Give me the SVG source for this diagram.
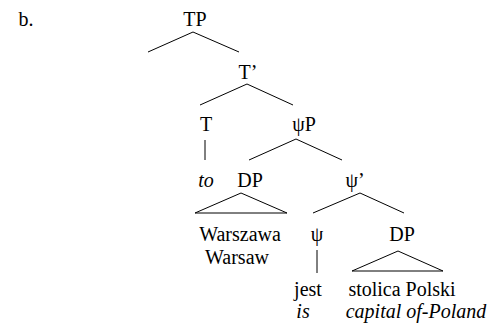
<svg xmlns="http://www.w3.org/2000/svg" width="495" height="328" viewBox="0 0 495 328">
<style>
text{font-family:"Liberation Serif","Times New Roman",serif;font-size:20px;fill:#000;text-anchor:middle}
.i{font-style:italic}
.e{stroke:#000;stroke-width:1;fill:none}
</style>
<rect width="495" height="328" fill="#fff"/>
<text x="26" y="26">b.</text>
<g id="TP"><text x="195" y="26">TP</text></g>
<g id="Tbar"><text x="248" y="79">T’</text></g>
<g id="T"><text x="206" y="131">T</text></g>
<g id="to"><text class="i" x="206" y="187">to</text></g>
<g id="psiP"><text x="304" y="131">ψP</text></g>
<g id="DP1"><text x="250" y="187">DP</text></g>
<g id="psibar"><text x="355" y="187">ψ’</text></g>
<g id="Warszawa"><text x="240" y="241">Warszawa</text><text x="237" y="264">Warsaw</text></g>
<g id="psi"><text x="317" y="241">ψ</text></g>
<g id="DP2"><text x="402" y="241">DP</text></g>
<g id="jest"><text x="308" y="296">jest</text><text class="i" x="303" y="318">is</text></g>
<g id="stolica"><text x="402" y="296">stolica Polski</text><text class="i" x="416" y="318">capital of-Poland</text></g>
<g id="connectors" class="e">
<polyline points="148,52 193,32 239,52"/>
<polyline points="200,105 247,84 293,105"/>
<line x1="205" y1="140" x2="205" y2="160"/>
<polyline points="249,160 296,139 342,160"/>
<polygon points="195,213 241,193 287,213"/>
<polyline points="313,213 360,193 404,213"/>
<line x1="317" y1="250" x2="317" y2="273"/>
<polygon points="352,271 398,251 443,271"/>
</g>
</svg>
